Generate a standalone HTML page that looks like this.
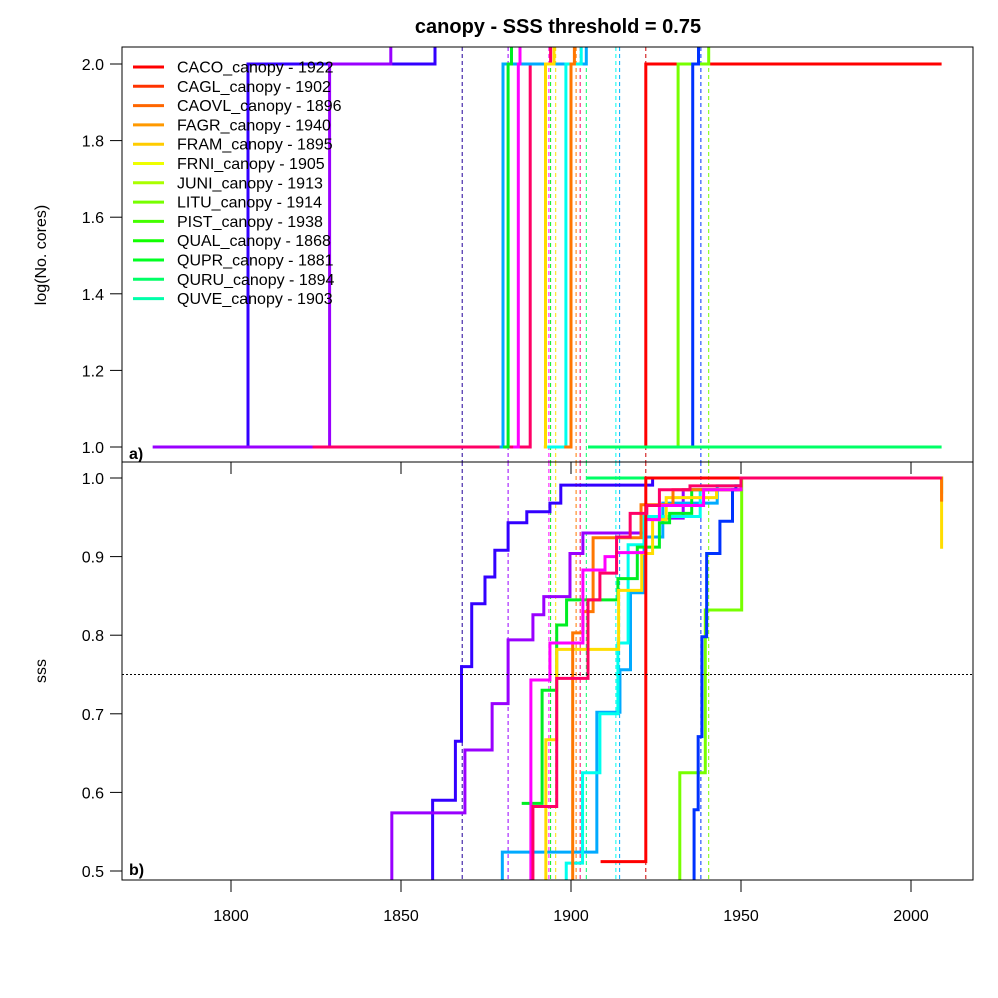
<!DOCTYPE html>
<html><head><meta charset="utf-8"><style>
body{margin:0;background:#fff}
svg{display:block;font-family:"Liberation Sans",Arial,sans-serif}
</style></head><body>
<svg id="c" width="998" height="998" viewBox="0 0 998 998">
<defs>
<clipPath id="clipA"><rect x="122" y="47" width="851" height="415"/></clipPath>
<clipPath id="clipB"><rect x="122" y="462" width="851" height="418"/></clipPath>
</defs>
<text x="558" y="33" text-anchor="middle" font-size="20" font-weight="bold">canopy - SSS threshold = 0.75</text>
<g id="gA" clip-path="url(#clipA)"></g>
<g id="gB" clip-path="url(#clipB)"></g>
<g id="axes"></g>
<g id="legend"></g>
</svg>
<script>
const xTicks=[1800,1850,1900,1950,2000];
const yTicksA=[1.0,1.2,1.4,1.6,1.8,2.0];
const yTicksB=[0.5,0.6,0.7,0.8,0.9,1.0];
const threshold=0.75;
const legendLabels=["CACO_canopy - 1922","CAGL_canopy - 1902","CAOVL_canopy - 1896","FAGR_canopy - 1940","FRAM_canopy - 1895","FRNI_canopy - 1905","JUNI_canopy - 1913","LITU_canopy - 1914","PIST_canopy - 1938","QUAL_canopy - 1868","QUPR_canopy - 1881","QURU_canopy - 1894","QUVE_canopy - 1903"];
const legendColors=["#FF0000","#FF3300","#FF6600","#FF9900","#FFCC00","#EEFF00","#AAFF00","#77FF00","#44FF00","#11FF00","#00FF22","#00FF66","#00FFAA"];
const cutYears=[1868,1881.5,1893.5,1894,1895.5,1901.5,1902.7,1904.5,1913.2,1914.3,1922,1938.2,1940.5];
const cutColors=["#220099","#9900FF","#FF00FF","#00EE22","#FFDD00","#FF7700","#FF0066","#00FF66","#00FFEE","#00AAFF","#CC0000","#0033FF","#77FF00"];
const coreColors=["#3300FF","#9900FF","#FF0066","#00AAFF","#00EE22","#FF00FF","#FFDD00","#00FFEE","#FF7700","#FF0000","#77FF00","#0033FF","#00FF66"];
const coreStart=[1777,1777,1824,1879,1880,1883,1892,1893,1898,1908,1905,1935,1905];
const coreJump=[1805,1829,1888,1880,1881.5,1884.5,1892.5,1898.5,1900,1922,1931.5,1935.8,null];
const coreExit=[1860,1847,1894,1904.5,1882.5,1885,1895,1903,1901,null,1940.5,1937.5,null];
const coreEnd=2009;
const sBV_y=[1859,1859.3,1865,1866,1867.8,1870.8,1874.7,1877.6,1881.5,1887,1893.8,1897,1924,2009];
const sBV_v=[0.48,0.590,0.590,0.665,0.760,0.840,0.874,0.908,0.943,0.957,0.968,0.991,1.0,1.0];
const sPU_y=[1847,1847.3,1868.8,1871,1876.8,1881.5,1888.8,1892,1899.7,1903.5,1922,1933,1950,2009];
const sPU_v=[0.48,0.574,0.654,0.654,0.713,0.794,0.826,0.849,0.904,0.930,0.949,0.985,1.0,1.0];
const sMA_y=[1884.4,1888.2,1893.8,1903.5,1910,1913.4,1922,1926,1939,1950,2009];
const sMA_v=[0.48,0.743,0.790,0.883,0.900,0.905,0.947,0.965,0.985,1.0,1.0];
const sPK_y=[1888.4,1888.8,1895.8,1905,1908.5,1913.4,1917.4,1922.3,1926,1935,1950,2009];
const sPK_v=[0.48,0.582,0.745,0.845,0.879,0.925,0.955,0.965,0.985,0.990,1.0,1.0];
const sGR_y=[1885.5,1891.5,1895.8,1898.7,1913.8,1919.5,1926,1929,1935.5,1950,2009];
const sGR_v=[0.586,0.730,0.813,0.845,0.872,0.912,0.943,0.955,0.985,1.0,1.0];
const sGO_y=[1891.8,1892.6,1895.8,1914,1920.8,1924,1928,1942.8,1950,2009];
const sGO_v=[0.48,0.667,0.782,0.857,0.904,0.947,0.975,0.985,1.0,0.91];
const sOR_y=[1899.7,1900.5,1903.5,1906.5,1920.6,1930,1950,2009];
const sOR_v=[0.48,0.803,0.830,0.924,0.966,0.985,1.0,0.97];
const sCY_y=[1898.2,1898.6,1903.4,1908.5,1913.8,1916.8,1921.5,1938,1950,2009];
const sCY_v=[0.48,0.510,0.625,0.700,0.790,0.915,0.951,0.985,1.0,0.98];
const sSB_y=[1879.4,1879.8,1907.6,1914.4,1917.5,1921.5,1927,1943,1950,2009];
const sSB_v=[0.48,0.524,0.702,0.756,0.854,0.925,0.968,0.990,1.0,1.0];
const sBL_y=[1935.8,1936.2,1937.4,1938.5,1939.9,1943.8,1947.5,1948.5,1950,2009];
const sBL_v=[0.48,0.578,0.671,0.798,0.904,0.945,0.985,0.990,1.0,1.0];
const sCH_y=[1931.5,1932,1939.5,1948.7,1950.2,2009];
const sCH_v=[0.48,0.625,0.832,0.832,1.0,1.0];
const sRE_y=[1908.7,1922,2009];
const sRE_v=[0.512,1.0,1.0];
const sSG_y=[1904.6,2009];
const sSG_v=[1.0,1.0];
const seriesB=[[sBV_y,sBV_v,"#3300FF"],[sPU_y,sPU_v,"#9900FF"],[sSG_y,sSG_v,"#00FF66"],[sSB_y,sSB_v,"#00AAFF"],[sCY_y,sCY_v,"#00FFEE"],[sGR_y,sGR_v,"#00EE22"],[sGO_y,sGO_v,"#FFDD00"],[sOR_y,sOR_v,"#FF7700"],[sCH_y,sCH_v,"#77FF00"],[sBL_y,sBL_v,"#0033FF"],[sMA_y,sMA_v,"#FF00FF"],[sRE_y,sRE_v,"#FF0000"],[sPK_y,sPK_v,"#FF0066"]];

const NS="http://www.w3.org/2000/svg";
const X=yr=>231+(yr-1800)*3.4;
const YA=v=>447-(v-1)*383;
const YB=v=>478+(1-v)*786;
function mk(tag,parent,attrs){const e=document.createElementNS(NS,tag);for(const k in attrs)e.setAttribute(k,attrs[k]);parent.appendChild(e);return e;}
const gA=document.getElementById('gA'),gB=document.getElementById('gB'),ax=document.getElementById('axes'),lg=document.getElementById('legend');

cutYears.forEach((yr,i)=>{
  const a=mk('line',gA,{x1:X(yr),x2:X(yr),y1:47,y2:462,stroke:cutColors[i],'stroke-width':1,'stroke-dasharray':'4,3'});
  
  
  const b=mk('line',gB,{x1:X(yr),x2:X(yr),y1:462,y2:880,stroke:cutColors[i],'stroke-width':1,'stroke-dasharray':'4,3'});
  
  
});
coreColors.forEach((c,i)=>{
  let d='M'+X(coreStart[i])+','+YA(1);
  if(coreJump[i]===null){d+='H'+X(coreEnd);}
  else{d+='H'+X(coreJump[i])+'V'+YA(2);
    if(coreExit[i]===null)d+='H'+X(coreEnd);else d+='H'+X(coreExit[i])+'V'+YA(2.2);}
  const p=mk('path',gA,{d:d,fill:'none',stroke:c,'stroke-width':3});
  
  
});
seriesB.forEach(s=>{
  const ys=s[0],vs=s[1];
  let d='M'+X(ys[0])+','+YB(vs[0]);
  for(let i=1;i<ys.length;i++)d+='H'+X(ys[i])+'V'+YB(vs[i]);
  const p=mk('path',gB,{d:d,fill:'none',stroke:s[2],'stroke-width':3});
  
  
});
const th=mk('line',gB,{x1:122,x2:973,y1:YB(threshold),y2:YB(threshold),stroke:'#000','stroke-width':1,'stroke-dasharray':'2,2'});



const fa=mk('rect',ax,{x:122,y:47,width:851,height:415,fill:'none',stroke:'#000','stroke-width':1});


const fb=mk('rect',ax,{x:122,y:462,width:851,height:418,fill:'none',stroke:'#000','stroke-width':1});


xTicks.forEach(t=>{
  const a=mk('line',ax,{x1:X(t),x2:X(t),y1:462,y2:474,stroke:'#000'});
  
  
  const b=mk('line',ax,{x1:X(t),x2:X(t),y1:880,y2:892,stroke:'#000'});
  
  
  const tx=mk('text',ax,{x:X(t),y:921,'text-anchor':'middle','font-size':16});
  tx.textContent=t;
  
  
});
yTicksA.forEach(t=>{
  const l=mk('line',ax,{x1:110,x2:122,y1:YA(t),y2:YA(t),stroke:'#000'});
  
  
  const tx=mk('text',ax,{x:104,y:YA(t)+6,'text-anchor':'end','font-size':16});
  tx.textContent=t.toFixed(1);
  
  
});
yTicksB.forEach(t=>{
  const l=mk('line',ax,{x1:110,x2:122,y1:YB(t),y2:YB(t),stroke:'#000'});
  
  
  const tx=mk('text',ax,{x:104,y:YB(t)+6,'text-anchor':'end','font-size':16});
  tx.textContent=t.toFixed(1);
  
  
});
function txt(s,x,y,attrs,name){const t=mk('text',ax,Object.assign({x:x,y:y},attrs));t.textContent=s;}
txt('log(No. cores)',46,255,{'text-anchor':'middle','font-size':16,transform:'rotate(-90 46 255)'},'y-axis-title-a');
txt('sss',46,671,{'text-anchor':'middle','font-size':16,transform:'rotate(-90 46 671)'},'y-axis-title-b');
txt('a)',129,459,{'font-size':16,'font-weight':'bold'},'panel-a-label');
txt('b)',129,875,{'font-size':16,'font-weight':'bold'},'panel-b-label');
legendLabels.forEach((s,i)=>{
  const y=67+i*19.3;
  const l=mk('line',lg,{x1:133,x2:164,y1:y,y2:y,stroke:legendColors[i],'stroke-width':3});
  
  
  const t=mk('text',lg,{x:177,y:y+5.5,'font-size':16});
  t.textContent=s;
  
  
});
</script>
</body></html>
